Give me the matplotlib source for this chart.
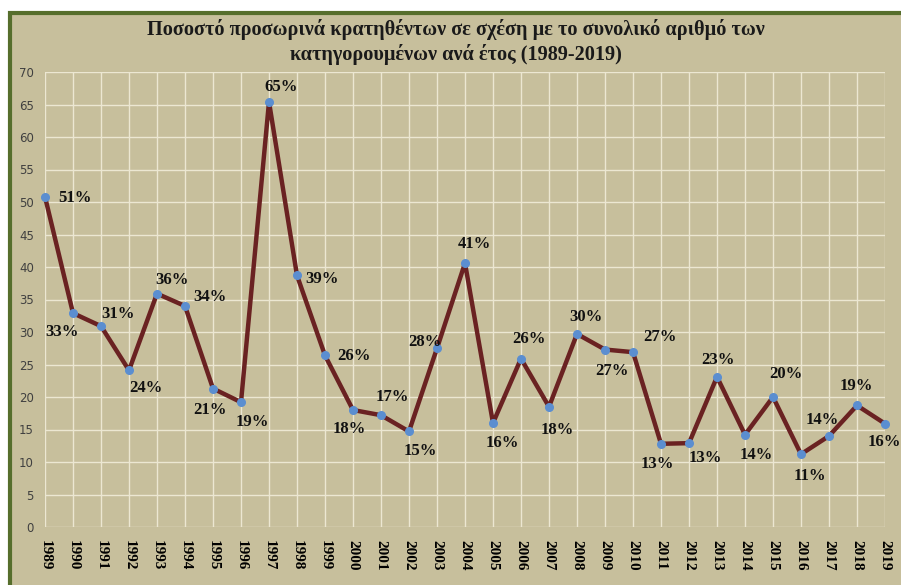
"""Percentage of pre-trial detainees vs total accused, 1989-2019."""

import matplotlib.pyplot as plt
from matplotlib.patches import Rectangle

years = list(range(1989, 2020))
pct = [50.8, 32.9, 30.9, 24.1, 35.9, 34.0, 21.3, 19.2, 65.4, 38.7,
       26.4, 18.0, 17.2, 14.7, 27.5, 40.6, 16.0, 25.9, 18.5, 29.7,
       27.3, 26.9, 12.8, 12.9, 23.1, 14.2, 20.0, 11.2, 14.0, 18.7, 15.9]
labels = [f"{round(v)}%" for v in pct]

TITLE = ("Ποσοστό προσωρινά κρατηθέντων σε σχέση με το συνολικό αριθμό των\n"
         "κατηγορουμένων ανά έτος (1989-2019)")

BG = "#C7BF9C"
BORDER = "#566E2C"
LINE = "#6A2222"
MARKER = "#5B8ED0"
GRID = "#ECE7D2"

# label offsets in pixels (dx, dy), screen direction: dy positive = up
label_offsets = [(30, -1), (-11, -19), (17, 12), (17, -18), (15, 14), (25, 9),
                 (-3, -21), (11, -20), (12, 15), (25, -4), (29, -1), (-4, -19),
                 (11, 18), (11, -20), (-12, 6), (9, 19), (9, -20), (8, 20),
                 (8, -23), (9, 17), (7, -21), (27, 15), (-4, -20), (16, -15),
                 (1, 17), (11, -20), (13, 23), (9, -22), (-7, 16), (-1, 19),
                 (-1, -18)]

fig = plt.figure(figsize=(9.01, 5.85), dpi=100, facecolor="white")
fig.patches.append(Rectangle((10 / 901, -0.05), 1.1, 1 - 13 / 585 + 0.05,
                             transform=fig.transFigure, facecolor=BG,
                             edgecolor=BORDER, linewidth=3, zorder=-10))

ax = fig.add_axes([45 / 901, 1 - 527 / 585, 840 / 901, 455 / 585])
ax.set_facecolor(BG)
ax.patch.set_alpha(0)
ax.set_xlim(1989, 2019)
ax.set_ylim(0, 70)
ax.set_xticks(years)
ax.set_yticks(range(0, 71, 5))
ax.grid(True, color=GRID, linewidth=1)
ax.set_axisbelow(True)
for s in ax.spines.values():
    s.set_visible(False)
ax.tick_params(length=0)
ax.tick_params(axis="y", labelsize=8.5, labelcolor="#404040", pad=8)
ax.set_xticklabels([str(y) for y in years], rotation=-90, fontfamily="Liberation Serif",
                   fontweight="bold", fontsize=11)
ax.tick_params(axis="x", pad=9)
for t in ax.get_yticklabels():
    t.set_fontfamily("DejaVu Sans")

ax.plot(years, pct, color=LINE, linewidth=3.2, zorder=3, clip_on=False,
        solid_joinstyle="round")
ax.plot(years, pct, linestyle="none", marker="o", markersize=5.5,
        color=MARKER, zorder=4, clip_on=False)

for x, y, lab, (dx, dy) in zip(years, pct, labels, label_offsets):
    ax.annotate(lab, (x, y), xytext=(dx * 0.72, dy * 0.72), textcoords="offset points",
                ha="center", va="center", fontfamily="Liberation Serif",
                fontweight="bold", fontsize=12, color="#111111", zorder=5)

fig.text(456 / 901, 1 - 42 / 585, TITLE, ha="center", va="center",
         fontfamily="Liberation Serif", fontweight="bold", fontsize=14.6,
         color="#1a1a1a", linespacing=1.2)

fig.savefig("out.png", dpi=100, facecolor=fig.get_facecolor())
